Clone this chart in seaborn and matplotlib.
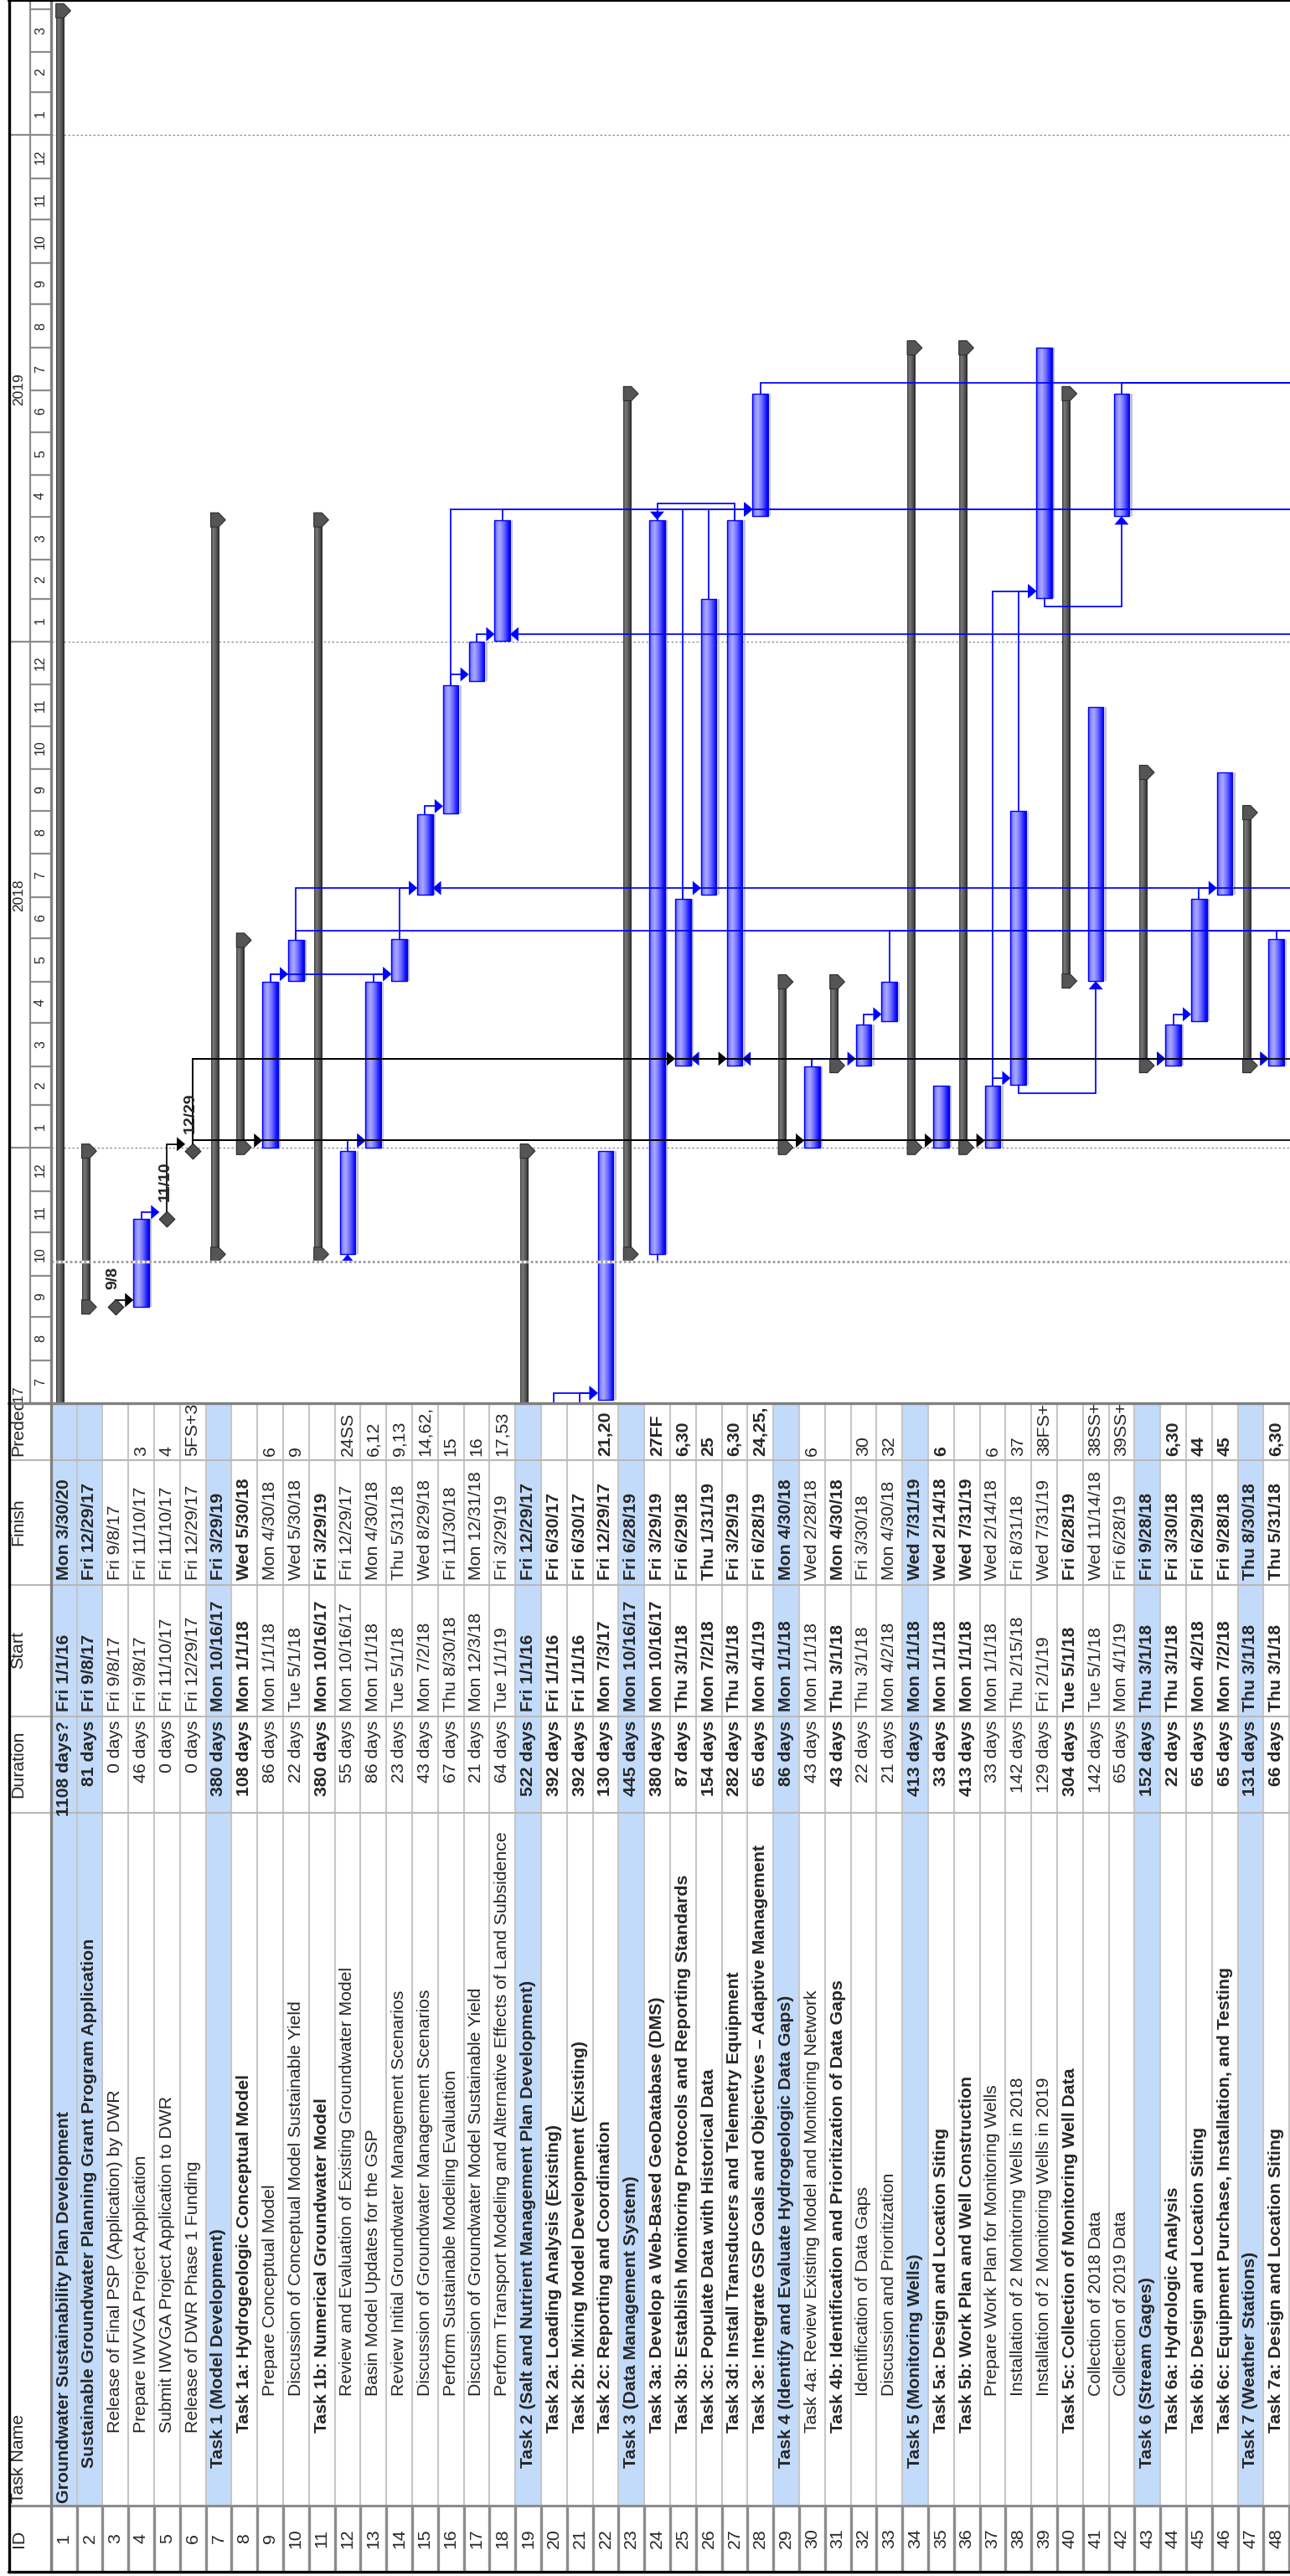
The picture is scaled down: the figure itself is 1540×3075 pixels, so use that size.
import numpy as np
import pandas as pd
import matplotlib
matplotlib.use("Agg")
import matplotlib.pyplot as plt
import matplotlib.dates as mdates
from matplotlib.colors import LinearSegmentedColormap
from matplotlib.patches import Polygon, Rectangle
import seaborn as sns

sns.set_theme(style="white")
plt.rcParams["font.family"] = ["Liberation Sans", "DejaVu Sans"]

# ---- table data ----
task_names = [
    "Groundwater Sustainability Plan Development",
    "Sustainable Groundwater Planning Grant Program Application",
    "Release of Final PSP (Application) by DWR",
    "Prepare IWVGA Project Application",
    "Submit IWVGA Project Application to DWR",
    "Release of DWR Phase 1 Funding",
    "Task 1 (Model Development)",
    "Task 1a: Hydrogeologic Conceptual Model",
    "Prepare Conceptual Model",
    "Discussion of Conceptual Model Sustainable Yield",
    "Task 1b: Numerical Groundwater Model",
    "Review and Evaluation of Existing Groundwater Model",
    "Basin Model Updates for the GSP",
    "Review Initial Groundwater Management Scenarios",
    "Discussion of Groundwater Management Scenarios",
    "Perform Sustainable Modeling Evaluation",
    "Discussion of Groundwater Model Sustainable Yield",
    "Perform Transport Modeling and Alternative Effects of Land Subsidence",
    "Task 2 (Salt and Nutrient Management Plan Development)",
    "Task 2a: Loading Analysis (Existing)",
    "Task 2b: Mixing Model Development (Existing)",
    "Task 2c: Reporting and Coordination",
    "Task 3 (Data Management System)",
    "Task 3a: Develop a Web-Based GeoDatabase (DMS)",
    "Task 3b: Establish Monitoring Protocols and Reporting Standards",
    "Task 3c: Populate Data with Historical Data",
    "Task 3d: Install Transducers and Telemetry Equipment",
    "Task 3e: Integrate GSP Goals and Objectives \u2013 Adaptive Management",
    "Task 4 (Identify and Evaluate Hydrogeologic Data Gaps)",
    "Task 4a: Review Existing Model and Monitoring Network",
    "Task 4b: Identification and Prioritization of Data Gaps",
    "Identification of Data Gaps",
    "Discussion and Prioritization",
    "Task 5 (Monitoring Wells)",
    "Task 5a: Design and Location Siting",
    "Task 5b: Work Plan and Well Construction",
    "Prepare Work Plan for Monitoring Wells",
    "Installation of 2 Monitoring Wells in 2018",
    "Installation of 2 Monitoring Wells in 2019",
    "Task 5c: Collection of Monitoring Well Data",
    "Collection of 2018 Data",
    "Collection of 2019 Data",
    "Task 6 (Stream Gages)",
    "Task 6a: Hydrologic Analysis",
    "Task 6b: Design and Location Siting",
    "Task 6c: Equipment Purchase, Installation, and Testing",
    "Task 7 (Weather Stations)",
    "Task 7a: Design and Location Siting",
]
durations = [
    "1108 days?", "81 days", "0 days", "46 days", "0 days", "0 days", "380 days", "108 days",
    "86 days", "22 days", "380 days", "55 days", "86 days", "23 days", "43 days", "67 days",
    "21 days", "64 days", "522 days", "392 days", "392 days", "130 days", "445 days", "380 days",
    "87 days", "154 days", "282 days", "65 days", "86 days", "43 days", "43 days", "22 days",
    "21 days", "413 days", "33 days", "413 days", "33 days", "142 days", "129 days", "304 days",
    "142 days", "65 days", "152 days", "22 days", "65 days", "65 days", "131 days", "66 days",
]
starts = [
    "Fri 1/1/16", "Fri 9/8/17", "Fri 9/8/17", "Fri 9/8/17", "Fri 11/10/17", "Fri 12/29/17",
    "Mon 10/16/17", "Mon 1/1/18", "Mon 1/1/18", "Tue 5/1/18", "Mon 10/16/17", "Mon 10/16/17",
    "Mon 1/1/18", "Tue 5/1/18", "Mon 7/2/18", "Thu 8/30/18", "Mon 12/3/18", "Tue 1/1/19",
    "Fri 1/1/16", "Fri 1/1/16", "Fri 1/1/16", "Mon 7/3/17", "Mon 10/16/17", "Mon 10/16/17",
    "Thu 3/1/18", "Mon 7/2/18", "Thu 3/1/18", "Mon 4/1/19", "Mon 1/1/18", "Mon 1/1/18",
    "Thu 3/1/18", "Thu 3/1/18", "Mon 4/2/18", "Mon 1/1/18", "Mon 1/1/18", "Mon 1/1/18",
    "Mon 1/1/18", "Thu 2/15/18", "Fri 2/1/19", "Tue 5/1/18", "Tue 5/1/18", "Mon 4/1/19",
    "Thu 3/1/18", "Thu 3/1/18", "Mon 4/2/18", "Mon 7/2/18", "Thu 3/1/18", "Thu 3/1/18",
]
finishes = [
    "Mon 3/30/20", "Fri 12/29/17", "Fri 9/8/17", "Fri 11/10/17", "Fri 11/10/17", "Fri 12/29/17",
    "Fri 3/29/19", "Wed 5/30/18", "Mon 4/30/18", "Wed 5/30/18", "Fri 3/29/19", "Fri 12/29/17",
    "Mon 4/30/18", "Thu 5/31/18", "Wed 8/29/18", "Fri 11/30/18", "Mon 12/31/18", "Fri 3/29/19",
    "Fri 12/29/17", "Fri 6/30/17", "Fri 6/30/17", "Fri 12/29/17", "Fri 6/28/19", "Fri 3/29/19",
    "Fri 6/29/18", "Thu 1/31/19", "Fri 3/29/19", "Fri 6/28/19", "Mon 4/30/18", "Wed 2/28/18",
    "Mon 4/30/18", "Fri 3/30/18", "Mon 4/30/18", "Wed 7/31/19", "Wed 2/14/18", "Wed 7/31/19",
    "Wed 2/14/18", "Fri 8/31/18", "Wed 7/31/19", "Fri 6/28/19", "Wed 11/14/18", "Fri 6/28/19",
    "Fri 9/28/18", "Fri 3/30/18", "Fri 6/29/18", "Fri 9/28/18", "Thu 8/30/18", "Thu 5/31/18",
]
predecessors = [
    "", "", "", "3", "4", "5FS+3", "", "", "6", "9", "", "24SS", "6,12", "9,13", "14,62,",
    "15", "16", "17,53", "", "", "", "21,20", "", "27FF", "6,30", "25", "6,30", "24,25,",
    "", "6", "", "30", "32", "", "6", "", "6", "37", "38FS+", "", "38SS+", "39SS+", "",
    "6,30", "44", "45", "", "6,30",
]
outline = [1, 2, 3, 3, 3, 3, 2, 3, 4, 4, 3, 4, 4, 4, 4, 4, 4, 4, 2, 3, 3, 3, 2, 3, 3, 3, 3, 3,
           2, 3, 3, 4, 4, 2, 3, 3, 4, 4, 4, 3, 4, 4, 2, 3, 3, 3, 2, 3]
bold_ids = [1, 2, 7, 8, 11, 19, 20, 21, 22, 23, 24, 25, 26, 27, 28, 29, 31, 34, 35, 36, 40,
            43, 44, 45, 46, 47, 48]
summary_ids = [1, 2, 7, 8, 11, 19, 23, 29, 31, 34, 36, 40, 43, 47]
highlight_ids = [1, 2, 7, 19, 23, 29, 34, 43, 47]
milestone_ids = [3, 5, 6]
milestone_text = ["9/8", "11/10", "12/29"]
milestone_times = ["2017-09-08 08:00", "2017-11-10 17:00", "2017-12-29 17:00"]

# links: (predecessor, successor, type)
links = [
    (3, 4, "FS"), (4, 5, "FS"), (5, 6, "FS"), (6, 9, "FS"), (9, 10, "FS"), (24, 12, "SS"),
    (6, 13, "FS"), (12, 13, "FS"), (9, 14, "FS"), (13, 14, "FS"), (14, 15, "FS"),
    (10, 15, "FS"), (62, 15, "FS"), (15, 16, "FS"), (16, 17, "FS"), (17, 18, "FS"),
    (53, 18, "FS"), (21, 22, "FS"), (20, 22, "FS"), (27, 24, "FF"), (6, 25, "FS"),
    (30, 25, "FS"), (25, 26, "FS"), (6, 27, "FS"), (30, 27, "FS"), (24, 28, "FS"),
    (25, 28, "FS"), (26, 28, "FS"), (27, 28, "FS"), (6, 30, "FS"), (30, 32, "FS"),
    (32, 33, "FS"), (6, 35, "FS"), (6, 37, "FS"), (37, 38, "FS"), (38, 39, "FS"),
    (37, 39, "FS"), (38, 41, "SS"), (39, 42, "SS"), (6, 44, "FS"), (30, 44, "FS"),
    (44, 45, "FS"), (45, 46, "FS"), (6, 48, "FS"), (30, 48, "FS"),
    (6, 52, "FS"), (6, 55, "FS"), (10, 60, "FS"), (33, 60, "FS"), (48, 60, "FS"),
    (16, 58, "FS"), (18, 58, "FS"), (28, 66, "FS"), (42, 66, "FS"),
]
# tasks beyond row 48 that links run to / come from
offchart_ids = [52, 55, 53, 62, 60, 58, 66]
offchart_start = ["1/1/18", "3/1/18", "12/3/18", "5/1/18", "6/1/18", "4/1/19", "7/1/19"]
offchart_finish = ["2/14/18", "3/30/18", "12/31/18", "6/29/18", "6/29/18", "6/28/19", "7/31/19"]

# ---- layout ----
W, H = 1540, 3075
ROW = 30.8          # px per task row
PXD = 1.656         # px per day
LEFT = 60.7         # header column
CH = 1675           # gantt height
FS = 15.3
X_MAX = (W - LEFT) / ROW
T0 = mdates.date2num(pd.Timestamp("2017-07-01"))
T1 = T0 + CH / PXD


def day(s, hour):
    d = pd.to_datetime(s.split()[-1], format="%m/%d/%y")
    return mdates.date2num(d + pd.Timedelta(hours=hour))


df = pd.DataFrame({"id": range(1, 49), "name": task_names, "dur": durations, "start": starts,
                   "finish": finishes, "pred": predecessors, "level": outline})
df["x"] = df["id"] - 0.5
df["t0"] = [day(s, 8) for s in df["start"]]
df["t1"] = [day(s, 17) for s in df["finish"]]
ms_t = [mdates.date2num(pd.Timestamp(t)) for t in milestone_times]
for i, t in zip(milestone_ids, ms_t):
    df.loc[df.id == i, ["t0", "t1"]] = t

info = {r.id: (r.x, r.t0, r.t1) for r in df.itertuples()}
for i, s, f in zip(offchart_ids, offchart_start, offchart_finish):
    info[i] = (i - 0.5, day(s, 8), day(f, 17))

fig = plt.figure(figsize=(W / 100, H / 100), dpi=100)
fig.patch.set_facecolor("white")

# ---------------- gantt ----------------
ax = fig.add_axes([LEFT / W, 1 - CH / H, (W - LEFT) / W, CH / H])
ax.set_facecolor("white")

for yr in [2018, 2019, 2020]:
    ax.axhline(mdates.date2num(pd.Timestamp(f"{yr}-01-01")), color="#8a8a8a",
               lw=0.9, ls=(0, (2, 2)), zorder=1)

blue_cmap = LinearSegmentedColormap.from_list(
    "bl", [(0, "#3434ff"), (0.15, "#8a8aff"), (0.35, "#a9a9ff"), (0.6, "#7272ff"),
           (0.85, "#2424ff"), (1, "#0000e6")])
gray_cmap = LinearSegmentedColormap.from_list(
    "gr", [(0, "#3a3a3a"), (0.25, "#7a7a7a"), (0.5, "#656565"), (0.8, "#444444"), (1, "#252525")])
grad = np.linspace(0, 1, 64)[None, :]


def shade(bar_patches, cmap):
    # gradient fill, kept inside the bar and inside the visible time range
    for b in bar_patches:
        x0, y0 = b.get_x(), b.get_y()
        lo, hi = max(y0, T0), min(y0 + b.get_height(), T1)
        if hi <= lo:
            continue
        im = ax.imshow(grad, cmap=cmap, aspect="auto", origin="lower", zorder=3.1,
                       extent=(x0, x0 + b.get_width(), lo, hi))
        im.set_clip_path(b)


tasks = df[~df.id.isin(summary_ids) & ~df.id.isin(milestone_ids)]
bw = 18.5 / ROW
ax.bar(tasks.x + bw / 2 + 2.5 / ROW, tasks.t1 - tasks.t0, bottom=tasks.t0, width=1.8 / ROW,
       color="#c4c4c4", linewidth=0, zorder=2.5)
bars = ax.bar(tasks.x, tasks.t1 - tasks.t0, bottom=tasks.t0, width=bw, color="#5050ff",
              linewidth=0, zorder=3)
shade(bars, blue_cmap)
ax.bar(tasks.x, tasks.t1 - tasks.t0, bottom=tasks.t0, width=bw, fill=False,
       edgecolor="#0000ff", linewidth=1.0, zorder=3.2)

summ = df[df.id.isin(summary_ids)]
sw = 9.4 / ROW
soff = 6 / ROW
hh = 8.5 / PXD
sbars = ax.bar(summ.id - 1 + soff + sw / 2, summ.t1 - summ.t0 + 2 * hh, bottom=summ.t0 - hh,
               width=sw, color="#555555", linewidth=0, zorder=3)
shade(sbars, gray_cmap)
tri = 8.3 / ROW
for r in summ.itertuples():
    L = r.id - 1 + soff
    R = L + sw
    for t in (r.t0, r.t1):
        ax.add_patch(Polygon([(L, t - hh), (R, t - hh), (R + tri, t), (R, t + hh), (L, t + hh)],
                             closed=True, facecolor="#555555", edgecolor="#2e2e2e", lw=0.8,
                             zorder=3.3))

# links
AL_R, AW_D = 10 / ROW, 8.5 / PXD
AL_D, AW_R = 10 / PXD, 8.5 / ROW


def half_w(i):
    return 9 / ROW if i in milestone_ids else bw / 2


for p, s, kind in links:
    xp, sp, fp = info[p]
    xs, ss, fs = info[s]
    col = "black" if p in milestone_ids else "#0000ff"
    kw = dict(color=col, lw=1.25, zorder=4, solid_joinstyle="miter")
    if kind == "FS":
        yh = max(fp, ss) + 5
        d = 1 if xs > xp else -1
        tip = xs - d * half_w(s)
        base = tip - d * AL_R
        ax.plot([xp, xp, base], [fp, yh, yh], **kw)
        ax.fill([base, tip, base], [yh - AW_D, yh, yh + AW_D], color=col, lw=0, zorder=4)
    elif kind == "SS":
        yh = min(sp, ss) - 6
        ax.plot([xp, xp, xs, xs], [sp, yh, yh, ss - AL_D], **kw)
        ax.fill([xs - AW_R, xs, xs + AW_R], [ss - AL_D, ss, ss - AL_D], color=col, lw=0, zorder=4)
    else:
        yh = max(fp, fs) + 12
        ax.plot([xp, xp, xs, xs], [fp, yh, yh, fs + AL_D], **kw)
        ax.fill([xs - AW_R, xs, xs + AW_R], [fs + AL_D, fs, fs + AL_D], color=col, lw=0, zorder=4)

# milestones
ms = df[df.id.isin(milestone_ids)]
sns.scatterplot(x=ms.x, y=ms.t0, marker="D", s=90, color="#505050", edgecolor="#222222",
                linewidth=0.8, ax=ax, zorder=5, legend=False)
for x, t, lab in zip(ms.x, ms.t0, milestone_text):
    ax.text(x - 0.08, t + 13, lab, rotation=90, rotation_mode="anchor", ha="left",
            va="center", fontsize=14, fontweight="bold", zorder=6)

# status date line
status = T0 + 101.8
ax.axhline(status, color="white", lw=2.4, zorder=6)
ax.axhline(status, color="#9a9a9a", lw=2.0, ls=(0, (1, 1)), zorder=6.1)

ax.set_xlim(0, X_MAX)
ax.set_ylim(T0, T1)
ax.axis("off")

# ---------------- timescale header ----------------
hax = fig.add_axes([10 / W, 1 - CH / H, (LEFT - 10) / W, CH / H])
hax.set_xlim(10, LEFT)
hax.set_ylim(T0, T1)
hax.axis("off")
months = pd.date_range("2017-07-01", "2020-05-01", freq="MS")
for m in months:
    t = mdates.date2num(m)
    hax.plot([36, LEFT], [t, t], color="#8c8c8c", lw=1.6)
    mid = t + m.days_in_month / 2
    if mid < T1:
        hax.text(48.5, mid, str(m.month), rotation=90, ha="center", va="center",
                 fontsize=11.5, clip_on=True)
for yr in [2017, 2018, 2019, 2020]:
    t = mdates.date2num(pd.Timestamp(f"{yr}-01-01"))
    hax.plot([10, 36], [t, t], color="#8c8c8c", lw=1.6)
    mid = mdates.date2num(pd.Timestamp(f"{yr}-07-02"))
    if mid < T1:
        hax.text(23, mid, str(yr), rotation=90, ha="center", va="center", fontsize=12.5,
                 clip_on=True)
hax.axvline(36, color="#8c8c8c", lw=1.6)

# ---------------- table ----------------
tax = fig.add_axes([LEFT / W, 0, (W - LEFT) / W, (H - CH) / H])
tax.set_xlim(0, X_MAX)
tax.set_ylim(H, CH)
tax.axis("off")

hl = df[df.id.isin(highlight_ids)]
tax.bar(hl.x, 2991 - CH, bottom=CH, width=1.0, color="#c3dbfb", linewidth=0, zorder=1)
tax.vlines(np.arange(0, 49), CH, 2991, color="#c6c6c6", lw=1.5, zorder=2)
tax.vlines(np.arange(0, 49), 2991, 3069, color="#8c8c8c", lw=2.4, zorder=2)
tax.hlines([1743, 1892, 2049, 2164], 0, X_MAX, color="#b8b8b8", lw=1.5, zorder=2)
tax.hlines([2991], 0, X_MAX, color="#8c8c8c", lw=2.2, zorder=2)

name_start = {1: 2988, 2: 2946, 3: 2904, 4: 2860}
for r in df.itertuples():
    fw = "bold" if r.id in bold_ids else "normal"
    kw = dict(rotation=90, rotation_mode="anchor", va="center", fontsize=FS, fontweight=fw,
              zorder=3)
    tax.text(r.x, 3030, str(r.id), ha="center", fontsize=FS, rotation=90,
             rotation_mode="anchor", va="center", zorder=3)
    tax.text(r.x, name_start[r.level], r.name, ha="left", **kw)
    tax.text(r.x, 2054, r.dur, ha="right", **kw)
    tax.text(r.x, 2043, r.start, ha="left", **kw)
    tax.text(r.x, 1886, r.finish, ha="left", **kw)
    if r.pred:
        tax.text(r.x, 1738, r.pred, ha="left", **kw)

# ---------------- header column ----------------
hdr = fig.add_axes([0, 0, LEFT / W, 1])
hdr.set_xlim(0, LEFT)
hdr.set_ylim(H, 0)
hdr.axis("off")
hkw = dict(rotation=90, rotation_mode="anchor", va="center", fontsize=FS)
hdr.text(22, 3030, "ID", ha="center", **hkw)
hdr.text(22, 2988, "Task Name", ha="left", **hkw)
hdr.text(22, 2106, "Duration", ha="center", **hkw)
hdr.text(22, 1970, "Start", ha="center", **hkw)
hdr.text(22, 1817, "Finish", ha="center", **hkw)
pt = hdr.text(22, 1738, "Predecessors", ha="left", clip_on=True, **hkw)
pt.set_clip_path(Rectangle((10, CH + 2), 50, 1743 - CH - 2, transform=hdr.transData))
hdr.hlines([1743, 1892, 2049, 2164], 10, LEFT, color="#b8b8b8", lw=1.5)
hdr.hlines([2991], 10, LEFT, color="#8c8c8c", lw=2.2)

# ---------------- frame ----------------
frame = fig.add_axes([0, 0, 1, 1], zorder=10)
frame.set_xlim(0, W)
frame.set_ylim(H, 0)
frame.axis("off")
frame.plot([LEFT, LEFT], [0, 3069], color="#808080", lw=2.4)
frame.plot([10, W], [CH, CH], color="#808080", lw=2.4)
frame.plot([10.5, 10.5], [0, 3070], color="black", lw=2.4)
frame.plot([10, W], [3069.5, 3069.5], color="black", lw=2.4)
frame.plot([10, W], [0.8, 0.8], color="black", lw=1.6)

fig.savefig("out.png", dpi=100, facecolor="white")
